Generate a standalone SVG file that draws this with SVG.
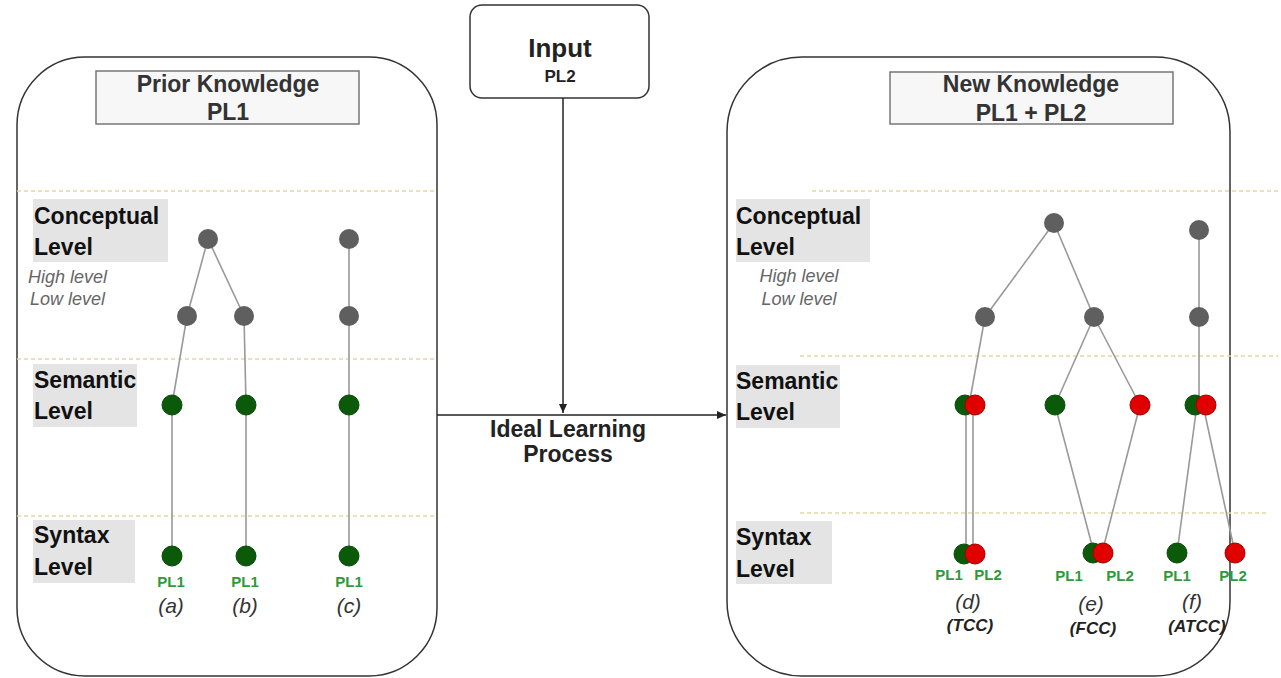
<svg xmlns="http://www.w3.org/2000/svg" width="1281" height="678" viewBox="0 0 1281 678">
<style>
.panel{fill:#fff;stroke:#333;stroke-width:1.5}
.title{fill:#f7f7f7;stroke:#777;stroke-width:1.5}
.tt{font-family:"Liberation Sans",Arial,sans-serif;font-weight:bold;font-size:23px;fill:#333;text-anchor:middle}
.lvbox{fill:#e4e4e4}
.lv{font-family:"Liberation Sans",Arial,sans-serif;font-weight:bold;font-size:23px;fill:#111}
.hl{font-family:"Liberation Sans",Arial,sans-serif;font-style:italic;font-size:18px;fill:#666}
.dot{stroke:#e3d8a2;stroke-width:1.5;stroke-dasharray:4 3;fill:none}
.edge{stroke:#999;stroke-width:1.6;fill:none}
.g{fill:#5f5f5f}
.gr{fill:#0a5a0a;stroke:#0a4a0a;stroke-width:1}
.rd{fill:#e00000;stroke:#a00000;stroke-width:1}
.pl{font-family:"Liberation Sans",Arial,sans-serif;font-weight:bold;font-size:15px;fill:#2f9a3a;text-anchor:middle}
.cap{font-family:"Liberation Sans",Arial,sans-serif;font-style:italic;font-size:21px;fill:#333;text-anchor:middle}
.cap2{font-family:"Liberation Sans",Arial,sans-serif;font-style:italic;font-weight:bold;font-size:17px;fill:#222;text-anchor:middle}
.arrow{stroke:#222;stroke-width:1.5;fill:none}
</style>
<defs>
<marker id="ah" markerWidth="10" markerHeight="10" refX="9" refY="5" orient="auto" markerUnits="userSpaceOnUse">
<path d="M0,1 L9,5 L0,9 Z" fill="#222"/>
</marker>
</defs>

<g id="panel-prior">
<rect class="panel" x="17" y="57" width="420" height="619" rx="68" ry="68"/>
<rect class="title" x="96" y="71" width="263" height="53"/>
<text class="tt" x="228" y="92">Prior Knowledge</text>
<text class="tt" x="228" y="120">PL1</text>
</g>

<g id="panel-new">
<rect class="panel" x="727" y="57" width="503" height="619" rx="75" ry="75"/>
<rect class="title" x="890" y="72" width="283" height="52"/>
<text class="tt" x="1031" y="92">New Knowledge</text>
<text class="tt" x="1031" y="121">PL1 + PL2</text>
</g>

<g id="input">
<rect x="470" y="5" width="179" height="93" rx="12" ry="12" fill="#fff" stroke="#333" stroke-width="1.5"/>
<text class="tt" x="560" y="57" style="font-size:26px;fill:#222">Input</text>
<text class="tt" x="560" y="82" style="font-size:17px;fill:#222">PL2</text>
</g>

<g id="dotted-lines">
<line class="dot" x1="17" y1="191" x2="437" y2="191"/>
<line class="dot" x1="17" y1="359" x2="437" y2="359"/>
<line class="dot" x1="17" y1="516" x2="437" y2="516"/>
<line class="dot" x1="812" y1="191" x2="1281" y2="191"/>
<line class="dot" x1="800" y1="356" x2="1278" y2="356"/>
<line class="dot" x1="800" y1="513" x2="1268" y2="513"/>
</g>

<g id="level-labels-left">
<rect class="lvbox" x="33" y="199" width="135" height="63"/>
<text class="lv" x="34" y="224">Conceptual</text>
<text class="lv" x="34" y="255">Level</text>
<text class="hl" x="28" y="283">High level</text>
<text class="hl" x="30" y="305">Low level</text>
<rect class="lvbox" x="33" y="364" width="104" height="63"/>
<text class="lv" x="34" y="388">Semantic</text>
<text class="lv" x="34" y="419">Level</text>
<rect class="lvbox" x="33" y="520" width="102" height="63"/>
<text class="lv" x="34" y="543">Syntax</text>
<text class="lv" x="34" y="575">Level</text>
</g>

<g id="level-labels-right">
<rect class="lvbox" x="736" y="199" width="134" height="63"/>
<text class="lv" x="736" y="224">Conceptual</text>
<text class="lv" x="736" y="255">Level</text>
<text class="hl" x="799" y="282" text-anchor="middle">High level</text>
<text class="hl" x="799" y="305" text-anchor="middle">Low level</text>
<rect class="lvbox" x="736" y="365" width="104" height="63"/>
<text class="lv" x="736" y="389">Semantic</text>
<text class="lv" x="736" y="420">Level</text>
<rect class="lvbox" x="736" y="521" width="96" height="63"/>
<text class="lv" x="736" y="545">Syntax</text>
<text class="lv" x="736" y="577">Level</text>
</g>

<g id="connectors">
<line class="edge" x1="208" y1="239" x2="187" y2="316"/>
<line class="edge" x1="208" y1="239" x2="244" y2="316"/>
<line class="edge" x1="187" y1="316" x2="172" y2="405"/>
<line class="edge" x1="244" y1="316" x2="246" y2="405"/>
<line class="edge" x1="172" y1="405" x2="172" y2="556"/>
<line class="edge" x1="246" y1="405" x2="246" y2="556"/>
<line class="edge" x1="349" y1="239" x2="349" y2="556"/>
<line class="edge" x1="1054" y1="223" x2="985" y2="317"/>
<line class="edge" x1="1054" y1="223" x2="1094" y2="317"/>
<line class="edge" x1="985" y1="317" x2="969" y2="405"/>
<line class="edge" x1="966" y1="405" x2="966" y2="553"/>
<line class="edge" x1="973" y1="405" x2="973" y2="553"/>
<line class="edge" x1="1094" y1="317" x2="1055" y2="405"/>
<line class="edge" x1="1094" y1="317" x2="1140" y2="405"/>
<line class="edge" x1="1055" y1="405" x2="1094" y2="553"/>
<line class="edge" x1="1140" y1="405" x2="1102" y2="553"/>
<line class="edge" x1="1199" y1="230" x2="1199" y2="405"/>
<line class="edge" x1="1197" y1="405" x2="1177" y2="553"/>
<line class="edge" x1="1203" y1="405" x2="1235" y2="553"/>
<line class="arrow" x1="563" y1="98" x2="563" y2="413" marker-end="url(#ah)"/>
<line class="arrow" x1="437" y1="415" x2="726" y2="415" marker-end="url(#ah)"/>
</g>

<g id="process-label">
<text class="tt" x="568" y="437" style="fill:#222">Ideal Learning</text>
<text class="tt" x="568" y="462" style="fill:#222">Process</text>
</g>

<g id="tree-a">
<circle class="g" cx="208" cy="239" r="10"/>
<circle class="g" cx="187" cy="316" r="10"/>
<circle class="gr" cx="172" cy="405" r="10"/>
<circle class="gr" cx="172" cy="556" r="10"/>
<text class="pl" x="171" y="587">PL1</text>
<text class="cap" x="171" y="613">(a)</text>
</g>
<g id="tree-b">
<circle class="g" cx="244" cy="316" r="10"/>
<circle class="gr" cx="246" cy="405" r="10"/>
<circle class="gr" cx="246" cy="556" r="10"/>
<text class="pl" x="245" y="587">PL1</text>
<text class="cap" x="245" y="613">(b)</text>
</g>
<g id="tree-c">
<circle class="g" cx="349" cy="239" r="10"/>
<circle class="g" cx="349" cy="316" r="10"/>
<circle class="gr" cx="349" cy="405" r="10"/>
<circle class="gr" cx="349" cy="556" r="10"/>
<text class="pl" x="349" y="587">PL1</text>
<text class="cap" x="349" y="613">(c)</text>
</g>

<g id="tree-de-top">
<circle class="g" cx="1054" cy="223" r="10"/>
</g>
<g id="tree-d">
<circle class="g" cx="985" cy="317" r="10"/>
<circle class="gr" cx="965" cy="405" r="10"/>
<circle class="rd" cx="975" cy="405" r="10"/>
<circle class="gr" cx="964" cy="554" r="10"/>
<circle class="rd" cx="975" cy="554" r="10"/>
<text class="pl" x="949" y="580">PL1</text>
<text class="pl" x="988" y="580">PL2</text>
<text class="cap" x="968" y="609">(d)</text>
<text class="cap2" x="970" y="631">(TCC)</text>
</g>
<g id="tree-e">
<circle class="g" cx="1094" cy="317" r="10"/>
<circle class="gr" cx="1055" cy="405" r="10"/>
<circle class="rd" cx="1140" cy="405" r="10"/>
<circle class="gr" cx="1093" cy="553" r="10"/>
<circle class="rd" cx="1103" cy="553" r="10"/>
<text class="pl" x="1069" y="581">PL1</text>
<text class="pl" x="1120" y="581">PL2</text>
<text class="cap" x="1091" y="611">(e)</text>
<text class="cap2" x="1093" y="634">(FCC)</text>
</g>
<g id="tree-f">
<circle class="g" cx="1199" cy="230" r="10"/>
<circle class="g" cx="1199" cy="317" r="10"/>
<circle class="gr" cx="1195" cy="405" r="10"/>
<circle class="rd" cx="1206" cy="405" r="10"/>
<circle class="gr" cx="1177" cy="553" r="10"/>
<circle class="rd" cx="1235" cy="553" r="10"/>
<text class="pl" x="1177" y="581">PL1</text>
<text class="pl" x="1233" y="581">PL2</text>
<text class="cap" x="1192" y="609">(f)</text>
<text class="cap2" x="1197" y="632">(ATCC)</text>
</g>
</svg>
